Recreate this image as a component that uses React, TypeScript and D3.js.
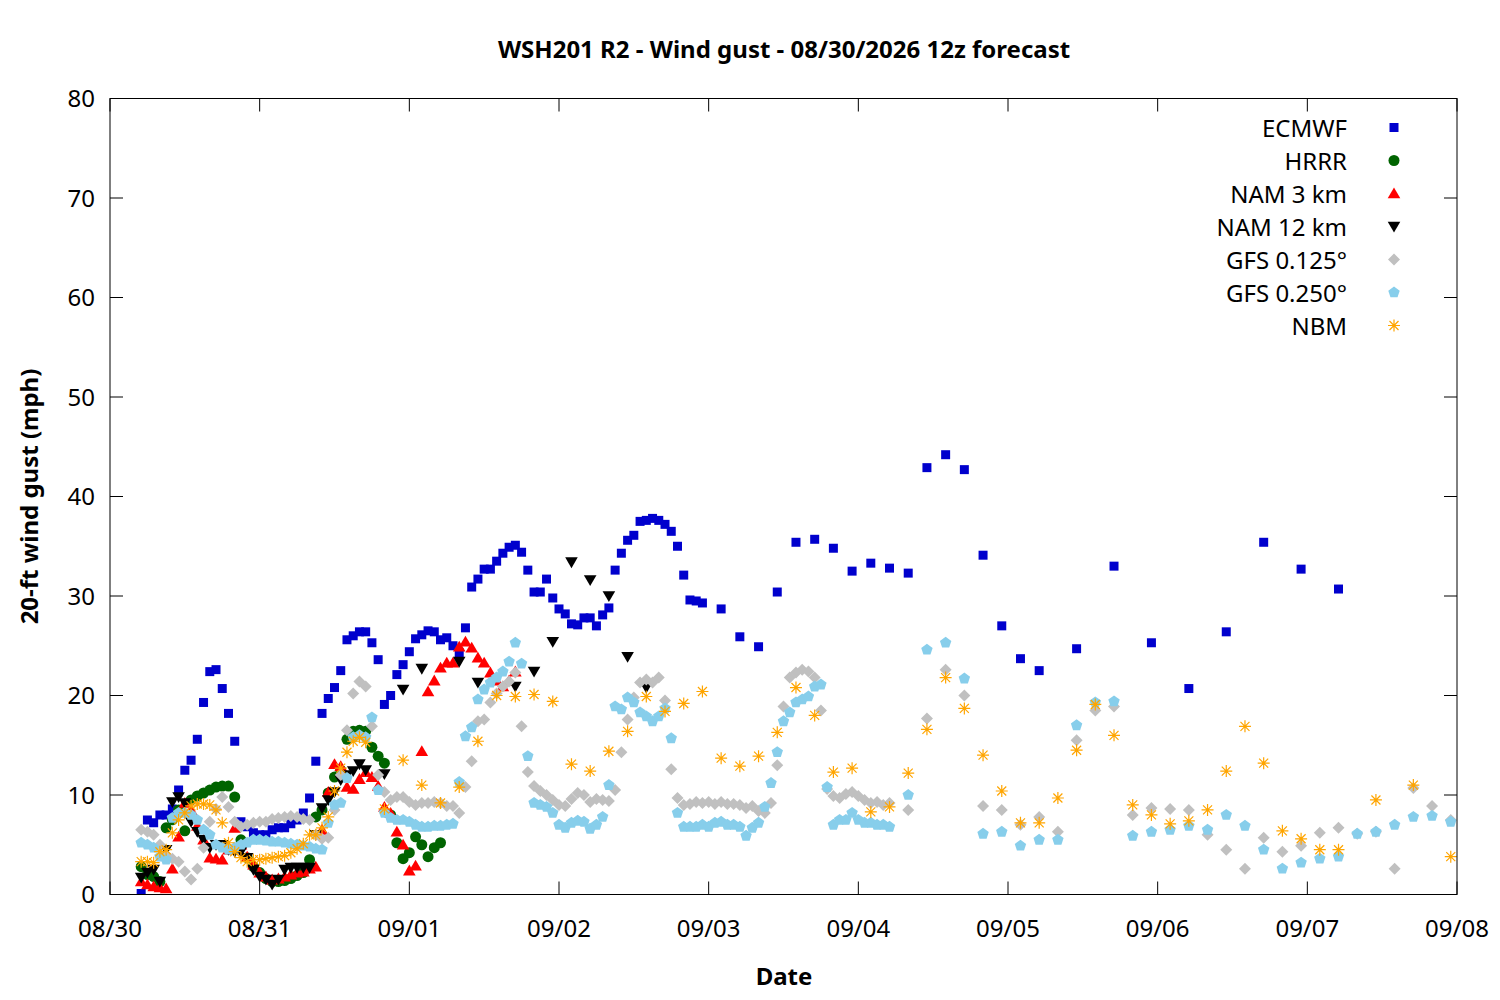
import * as d3 from 'd3';

const width = 1500;
const height = 1000;
const [mt, mr, mb, ml] = [98.5, 43, 105.5, 110];

// hours are counted from 08/30 00:00, the forecast starts at hour 5
const ecmwfHourly = [
    0.1, 7.5, 7.2, 8.0, 8.0, 8.6, 10.5, 12.5, 13.5, 15.6,
    19.3, 22.4, 22.6, 20.7, 18.2, 15.4, 7.3, 6.8, 6.2, 6.0,
    6.0, 6.5, 6.7, 6.7, 7.1, 7.5, 8.2, 9.7, 13.4, 18.2,
    19.7, 20.8, 22.5, 25.6, 26.0, 26.4, 26.4, 25.3, 23.6, 19.1,
    20.0, 22.1, 23.1, 24.4, 25.7, 26.1, 26.5, 26.4, 25.6, 25.8,
    25.0, 24.3, 26.8, 30.9, 31.7, 32.7, 32.7, 33.5, 34.3, 34.9,
    35.1, 34.4, 32.6, 30.4, 30.4, 31.7, 29.8, 28.7, 28.2, 27.2,
    27.1, 27.8, 27.8, 27.0, 28.1, 28.8, 32.6, 34.3, 35.6, 36.1,
    37.5, 37.6, 37.8, 37.6, 37.2, 36.5, 35.0, 32.1, 29.6, 29.5,
    29.3
];
const ecmwf3h = [28.7, 25.9, 24.9, 30.4, 35.4, 35.7, 34.8, 32.5, 33.3, 32.8, 32.3, 42.9, 44.2, 42.7, 34.1, 27.0, 23.7, 22.5];
const ecmwf6h = [24.7, 33.0, 25.3, 20.7, 26.4, 35.4, 32.7, 30.7];

const hrrrHourly = [
    2.8, 2.0, 1.8, 1.3, 6.7, 7.5, 8.5, 6.4, 9.5, 9.9,
    10.2, 10.5, 10.8, 10.9, 10.9, 9.8, 5.5, 3.7, 2.8, 2.2,
    1.6, 1.3, 1.3, 1.4, 1.6, 1.9, 2.2, 3.5, 7.8, 8.5,
    10.2, 11.8, 12.5, 15.6, 16.4, 16.5, 16.4, 14.8, 13.9, 13.2,
    8.0, 5.2, 3.6, 4.2, 5.8, 5.0, 3.8, 4.7, 5.2
];

const nam3Hourly = [
    1.3, 1.0, 0.8, 0.7, 0.6, 2.6, 5.8, 9.2, 8.5, 6.9,
    5.5, 3.7, 3.6, 3.5, 4.5, 6.7, 5.0, 3.8, 3.0, 2.2,
    1.8, 1.5, 1.6, 1.8, 2.0, 2.2, 2.3, 2.6, 2.8, 6.5,
    10.3, 13.1, 12.9, 10.8, 10.6, 11.6, 12.3, 11.8, 10.9, 8.8,
    8.2, 6.3, 5.0, 2.4, 2.9, 14.4, 20.4, 21.5, 22.8, 23.3,
    23.3, 24.9, 25.4, 24.8, 23.8, 23.3, 22.3, 21.5, 20.9, 21.5, 22.4
];

const nam12Hourly = [
    1.7, 2.2, 2.5, 1.3, 4.5, 9.3, 9.8, 9.2, 7.3, 6.3,
    5.5, 4.7, 5.0, 5.0, 4.5, 4.3, 4.3, 3.7, 2.5, 1.8,
    1.5, 1.0, 1.5, 2.5, 2.7, 2.7, 2.7, 2.7, 6.0, 8.7,
    9.5, 10.3, 11.5, 12.0, 12.4, 13.1, 12.5
];
const nam12LateHours = [44, 47, 50, 56, 59, 65, 68, 71, 74, 77, 80, 83, 86];
const nam12Late = [12.1, 20.6, 22.7, 23.4, 21.3, 20.9, 22.4, 25.4, 33.4, 31.6, 30.0, 23.9, 20.8];

const gfs125Hourly = [
    6.5, 6.3, 6.0, 5.0, 4.0, 3.6, 3.3, 2.3, 1.5, 2.6,
    4.7, 7.3, 8.6, 9.8, 8.8, 7.3, 6.8, 7.0, 7.2, 7.3,
    7.3, 7.6, 7.7, 7.8, 7.9, 7.8, 7.6, 7.5, 6.0, 5.6,
    5.7, 8.5, 12.0, 16.5, 20.2, 21.4, 20.9, 16.9, 12.0, 10.3,
    9.5, 9.8, 9.8, 9.3, 9.0, 9.2, 9.2, 9.3, 9.2, 8.9,
    8.9, 8.2, 10.8, 13.4, 17.4, 17.6, 19.3, 20.2, 20.9, 21.4,
    22.3, 16.9, 12.3, 10.9, 10.4, 10.0, 9.5, 9.0, 8.9, 9.6,
    10.2, 10.0, 9.3, 9.6, 9.5, 9.4, 10.5, 14.3, 17.6, 19.8,
    21.3, 21.6, 21.3, 21.8, 19.5, 12.6, 9.7, 9.0, 9.1, 9.3,
    9.2, 9.3, 9.1, 9.3, 9.1, 9.1, 9.0, 8.7, 8.9, 8.4,
    8.2, 9.2, 13.0, 18.9, 21.8, 22.3, 22.6, 22.4, 21.8, 18.5,
    10.6, 9.9, 9.7, 10.1, 10.3, 9.9, 9.5, 9.2, 9.3, 9.0, 9.2
];
const gfs125Late = [
    8.5, 17.7, 22.6, 20.0, 8.9, 8.5, 7.0, 7.8, 6.3, 15.5,
    18.5, 18.9, 8.0, 8.7, 8.6, 8.5, 6.0, 4.5, 2.6, 5.7,
    4.3, 4.9, 6.2, 6.7, 6.1, 6.3, 2.6, 10.7, 8.9, 7.5
];

const gfs250Hourly = [
    5.2, 5.0, 4.7, 3.8, 3.5, 7.7, 8.2, 8.2, 8.0, 7.5,
    6.5, 6.0, 5.0, 4.7, 4.5, 4.7, 5.0, 5.2, 5.5, 5.5,
    5.4, 5.3, 5.3, 5.2, 5.1, 5.0, 4.9, 4.8, 4.6, 4.5,
    7.2, 9.0, 9.2, 11.7, 15.8, 16.0, 15.8, 17.8, 10.5, 8.2,
    7.7, 7.5, 7.5, 7.3, 7.0, 6.8, 6.8, 6.9, 6.9, 7.0,
    7.1, 11.3, 15.9, 16.8, 19.6, 20.6, 21.3, 21.8, 22.4, 23.4,
    25.3, 23.2, 13.9, 9.2, 9.0, 8.8, 8.2, 7.0, 6.7, 7.2,
    7.4, 7.3, 6.6, 7.0, 7.8, 11.0, 18.9, 18.6, 19.8, 19.3,
    18.3, 17.9, 17.4, 17.9, 18.7, 15.7, 8.2, 6.8, 6.8, 6.8,
    7.0, 6.8, 7.2, 7.3, 7.0, 7.0, 6.8, 5.9, 6.7, 7.2,
    8.8, 11.2, 14.3, 17.4, 18.3, 19.3, 19.6, 19.9, 20.9, 21.1,
    10.8, 7.0, 7.5, 7.5, 8.2, 7.5, 7.2, 7.2, 7.0, 7.0, 6.8
];
const gfs250Late = [
    10.0, 24.6, 25.3, 21.7, 6.1, 6.3, 4.9, 5.5, 5.5, 17.0,
    19.3, 19.4, 5.9, 6.3, 6.5, 6.9, 6.5, 8.0, 6.9, 4.5,
    2.6, 3.2, 3.6, 3.8, 6.1, 6.3, 7.0, 7.8, 7.9, 7.3
];

const nbmHourly = [
    3.3, 3.3, 3.2, 4.3, 4.5, 6.2, 7.5, 8.2, 8.9, 9.1,
    9.1, 9.0, 8.5, 7.2, 5.2, 4.3, 3.7, 3.3, 3.5, 3.5,
    3.6, 3.7, 3.8, 3.9, 4.2, 4.6, 5.1, 6.0, 6.0, 6.7,
    7.8, 10.4, 12.7, 14.3, 15.4, 15.8, 15.3
];
const nbm3h = [
    8.6, 13.5, 11.0, 9.2, 10.8, 15.4, 20.0, 19.9, 20.1, 19.4,
    13.1, 12.4, 14.4, 16.4, 19.9, 18.4, 19.2, 20.4, 13.7, 12.9,
    13.9, 16.3, 20.8, 18.0, 12.3, 12.7, 8.3, 8.8, 12.2, 16.6,
    21.8, 18.7, 14.0, 10.4, 7.2, 7.2, 9.7, 14.5, 19.1, 16.0,
    9.0, 8.0, 7.1, 7.4, 8.5, 12.4, 16.9, 13.2, 6.4, 5.6,
    4.5, 4.5
];
const nbm6h = [9.5, 11.0, 3.8];

const yTicks = [0, 10, 20, 30, 40, 50, 60, 70, 80];

type Pt = { h: number; v: number };

// values taken at a fixed output step starting at hour `start`
const seg = (start: number, step: number, values: number[]): Pt[] => values.map((v, i) => ({ h: start + i * step, v }));
const pairs = (hours: number[], values: number[]): Pt[] => hours.map((h, i) => ({ h, v: values[i] }));

const series = [
    { name: 'ECMWF', color: '#0000cd', shape: 'square', pts: [...seg(5, 1, ecmwfHourly), ...seg(98, 3, ecmwf3h), ...seg(155, 6, ecmwf6h)] },
    { name: 'HRRR', color: '#006400', shape: 'circle', pts: seg(5, 1, hrrrHourly) },
    { name: 'NAM 3 km', color: '#ff0000', shape: 'up', pts: seg(5, 1, nam3Hourly) },
    { name: 'NAM 12 km', color: '#000000', shape: 'down', pts: [...seg(5, 1, nam12Hourly), ...pairs(nam12LateHours, nam12Late)] },
    { name: 'GFS 0.125°', color: '#c0c0c0', shape: 'diamond', pts: [...seg(5, 1, gfs125Hourly), ...seg(128, 3, gfs125Late)] },
    { name: 'GFS 0.250°', color: '#87ceeb', shape: 'pentagon', pts: [...seg(5, 1, gfs250Hourly), ...seg(128, 3, gfs250Late)] },
    { name: 'NBM', color: '#ffa500', shape: 'star', pts: [...seg(5, 1, nbmHourly), ...seg(44, 3, nbm3h), ...seg(203, 6, nbm6h)] }
];

const t0 = Date.UTC(2026, 7, 30);
const x = d3.scaleUtc().domain([new Date(t0), new Date(Date.UTC(2026, 8, 8))]).range([ml, width - mr]);
const y = d3.scaleLinear().domain([0, 80]).range([height - mb, mt]);
const hourToDate = (h: number) => new Date(t0 + h * 3600e3);
const dayTicks = x.ticks(d3.utcDay.every(1)!);
const fmt = d3.utcFormat('%m/%d');

const pentagon = d3.range(5).map((k) => {
    const a = (-90 + k * 72) * (Math.PI / 180);
    return [6 * Math.cos(a), 6 * Math.sin(a)];
});

const paths: Record<string, string> = {
    square: d3.symbol(d3.symbolSquare, 81)()!,
    circle: d3.symbol(d3.symbolCircle, 95)()!,
    up: 'M0,-6L6.3,4.8L-6.3,4.8Z',
    down: 'M0,6L6.3,-4.8L-6.3,-4.8Z',
    diamond: 'M0,-6L6,0L0,6L-6,0Z',
    pentagon: 'M' + pentagon.map((p) => p.join(',')).join('L') + 'Z',
    star: 'M-6,0H6M0,-6V6M-4.5,-4.5L4.5,4.5M-4.5,4.5L4.5,-4.5'
};

function Marker({ shape, color, cx, cy }: { shape: string; color: string; cx: number; cy: number }) {
    const star = shape === 'star';
    return (
        <path
            d={paths[shape]}
            transform={`translate(${cx},${cy})`}
            fill={star ? 'none' : color}
            stroke={star ? color : 'none'}
            strokeWidth={star ? 1.2 : 0}
        />
    );
}

export default function App() {
    const left = ml;
    const right = width - mr;
    const top = mt;
    const bottom = height - mb;
    const font = "'Noto Sans', 'DejaVu Sans', sans-serif";
    const fs = 24;

    return (
        <div style={{ position: 'absolute', left: 0, top: 0, background: '#fff' }}>
            <svg width={width} height={height} style={{ display: 'block' }} fontFamily={font}>
                <rect width={width} height={height} fill="#fff" />
                <text x={784} y={58} textAnchor="middle" fontSize={fs} fontWeight="bold">
                    WSH201 R2 - Wind gust - 08/30/2026 12z forecast
                </text>

                <defs>
                    <clipPath id="plot">
                        <rect x={left} y={top} width={right - left} height={bottom - top} />
                    </clipPath>
                </defs>

                {/* ticks, mirrored on all four sides */}
                <g stroke="#000" strokeWidth={1}>
                    {yTicks.map((t) => (
                        <g key={t}>
                            <line x1={left} x2={left + 13} y1={y(t)} y2={y(t)} />
                            <line x1={right - 13} x2={right} y1={y(t)} y2={y(t)} />
                        </g>
                    ))}
                    {dayTicks.map((d) => (
                        <g key={+d}>
                            <line x1={x(d)} x2={x(d)} y1={bottom} y2={bottom - 13} />
                            <line x1={x(d)} x2={x(d)} y1={top} y2={top + 13} />
                        </g>
                    ))}
                </g>

                <g fontSize={fs}>
                    {yTicks.map((t) => (
                        <text key={t} x={left - 15} y={y(t) + 8.8} textAnchor="end">
                            {t}
                        </text>
                    ))}
                    {dayTicks.map((d) => (
                        <text key={+d} x={x(d)} y={937} textAnchor="middle">
                            {fmt(d)}
                        </text>
                    ))}
                </g>

                <text x={784} y={985} textAnchor="middle" fontSize={fs} fontWeight="bold">
                    Date
                </text>
                <text transform={`translate(38,${(top + bottom) / 2}) rotate(-90)`} textAnchor="middle" fontSize={fs} fontWeight="bold">
                    20-ft wind gust (mph)
                </text>

                <g clipPath="url(#plot)">
                    {series.map((s) => (
                        <g key={s.name}>
                            {s.pts.map((p, i) => (
                                <Marker key={i} shape={s.shape} color={s.color} cx={x(hourToDate(p.h))} cy={y(p.v)} />
                            ))}
                        </g>
                    ))}
                </g>

                {/* legend */}
                <g fontSize={fs}>
                    {series.map((s, i) => (
                        <g key={s.name}>
                            <text x={1347} y={127.5 + i * 33 + 9} textAnchor="end">
                                {s.name}
                            </text>
                            <Marker shape={s.shape} color={s.color} cx={1394} cy={127.5 + i * 33} />
                        </g>
                    ))}
                </g>

                <rect x={left} y={top} width={right - left} height={bottom - top} fill="none" stroke="#000" strokeWidth={1} />
            </svg>
        </div>
    );
}
